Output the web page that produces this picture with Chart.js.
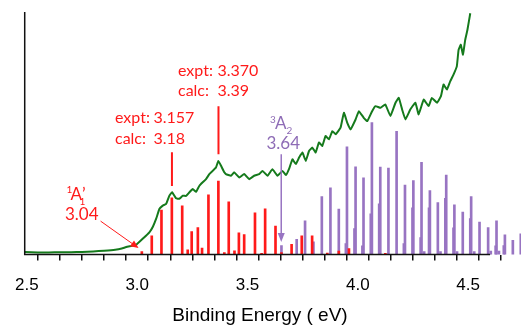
<!DOCTYPE html>
<html>
<head>
<meta charset="utf-8">
<script src="https://cdn.jsdelivr.net/npm/chart.js@4"></script>
<style>
  html, body { margin: 0; padding: 0; background: #fff; }
  #wrap { width: 521px; height: 325px; }
</style>
</head>
<body>
<div id="wrap"><canvas id="spec"></canvas></div>
<script>
// tick labels on the energy axis
var tickVals = [2.5, 2.6, 2.7, 2.8, 2.9, 3.0, 3.1, 3.2, 3.3, 3.4, 3.5, 3.6, 3.7, 3.8, 3.9, 4.0, 4.1, 4.2, 4.3, 4.4, 4.5, 4.6];
var tickLabels = ['2.5', '3.0', '3.5', '4.0', '4.5'];

// experimental photoelectron spectrum (green)
var exptE = [2.49, 2.55, 2.60, 2.65, 2.70, 2.75, 2.80, 2.85, 2.90, 2.93, 2.95, 2.975, 2.996, 3.026, 3.056, 3.071, 3.086, 3.101, 3.116, 3.131,
  3.146, 3.158, 3.176, 3.191, 3.207, 3.222, 3.237, 3.252, 3.267, 3.282, 3.297, 3.312, 3.327, 3.342, 3.357, 3.368, 3.380, 3.395, 3.402, 3.425,
  3.440, 3.463, 3.485, 3.508, 3.530, 3.553, 3.568, 3.591, 3.613, 3.636, 3.659, 3.674, 3.688, 3.704, 3.719, 3.734, 3.749, 3.764, 3.779, 3.794,
  3.809, 3.824, 3.839, 3.854, 3.869, 3.885, 3.900, 3.922, 3.937, 3.952, 3.967, 3.990, 4.005, 4.027, 4.043, 4.065, 4.080, 4.103, 4.125, 4.148,
  4.171, 4.186, 4.201, 4.216, 4.238, 4.261, 4.276, 4.299, 4.321, 4.336, 4.359, 4.377, 4.389, 4.404, 4.419, 4.434, 4.449, 4.457, 4.467, 4.477,
  4.487, 4.497, 4.510];
var exptI = [1.1, 0.9, 0.9, 1.0, 1.0, 1.1, 1.3, 1.6, 2.0, 2.5, 3.1, 3.6, 4.1, 6.6, 9.3, 11.5, 14.8, 18.9, 20.2, 20.9,
  24.3, 25.7, 23.2, 23.0, 24.3, 24.2, 25.7, 27.0, 25.9, 28.4, 29.8, 31.1, 33.2, 34.5, 35.9, 38.6, 36.6, 33.9, 33.2, 32.5,
  33.9, 31.8, 33.2, 31.1, 32.5, 33.2, 34.5, 32.5, 35.2, 32.5, 34.5, 32.8, 35.2, 39.3, 37.3, 40.0, 42.1, 38.6, 42.7, 44.1,
  42.1, 46.2, 44.8, 48.9, 47.5, 50.9, 49.6, 52.3, 58.5, 54.4, 51.6, 55.7, 59.1, 56.4, 55.0, 59.1, 61.2, 60.5, 61.9, 57.1,
  62.6, 64.6, 59.8, 55.7, 59.8, 62.6, 57.8, 63.9, 61.2, 64.6, 62.6, 65.3, 70.1, 68.0, 71.4, 74.2, 77.6, 84.4, 86.5, 82.4,
  88.5, 92.6, 99.5];

// calculated singlet sticks (red)
var singE = [3.021, 3.066, 3.110, 3.157, 3.204, 3.229, 3.247, 3.275, 3.294, 3.323, 3.368, 3.395, 3.415, 3.441, 3.461, 3.485,
  3.534, 3.564, 3.580, 3.627, 3.654, 3.700, 3.746, 3.793, 3.862, 3.914, 3.960, 4.125];
var singI = [1.2, 7.7, 18.4, 23.4, 20.1, 2.0, 9.5, 11.1, 2.7, 24.6, 30.3, 0.8, 21.8, 1.6, 9.0, 8.3,
  17.2, 0.5, 18.9, 11.8, 0.8, 4.2, 7.7, 7.7, 0.6, 1.4, 2.5, 0.5];

// calculated triplet sticks (purple)
var tripE = [3.654, 3.723, 3.761, 3.799, 3.837, 3.876, 3.914, 3.951, 3.990, 4.026, 4.064, 4.102, 4.139, 4.176, 4.214, 4.252,
  4.289, 4.327, 4.363, 4.401, 4.438, 4.476, 4.514, 4.552, 4.591, 4.629, 4.667, 4.703, 4.739,
  3.946, 3.985, 4.021, 4.059, 4.097, 4.209, 4.248, 4.285, 4.323, 4.397, 4.434, 4.510, 4.625, 4.662,
  4.301, 4.375, 4.450, 4.528, 4.603, 4.640];
var tripI = [3.7, 6.3, 13.9, 5.3, 23.9, 27.5, 18.8, 44.4, 36.2, 31.6, 54.4, 36.1, 35.7, 50.8, 28.7, 30.5,
  38.0, 26.4, 21.4, 32.8, 20.5, 17.5, 23.9, 13.4, 11.1, 13.9, 8.2, 5.9, 8.6,
  4.5, 10.7, 3.6, 16.8, 20.9, 4.5, 19.3, 7.0, 19.3, 23.2, 11.0, 14.8, 3.6, 3.7,
  1.2, 1.2, 1.2, 1.2, 1.5, 1.5];

var RED = '#ff1a1a';
var PURPLE = '#9874c2';
var PURPLE_TXT = '#8e6cb6';
var GREEN = '#157a1c';

function pairs(xs, ys) {
  return xs.map(function (x, i) { return { x: x, y: ys[i] }; });
}

function arrow(ctx, x1, y1, x2, y2, color, lw, hl, hw) {
  var a = Math.atan2(y2 - y1, x2 - x1);
  ctx.save();
  ctx.strokeStyle = color;
  ctx.fillStyle = color;
  ctx.lineWidth = lw;
  ctx.beginPath();
  ctx.moveTo(x1, y1);
  ctx.lineTo(x2 - Math.cos(a) * hl * 0.8, y2 - Math.sin(a) * hl * 0.8);
  ctx.stroke();
  ctx.beginPath();
  ctx.moveTo(x2, y2);
  ctx.lineTo(x2 - Math.cos(a) * hl + Math.sin(a) * hw / 2, y2 - Math.sin(a) * hl - Math.cos(a) * hw / 2);
  ctx.lineTo(x2 - Math.cos(a) * hl - Math.sin(a) * hw / 2, y2 - Math.sin(a) * hl + Math.cos(a) * hw / 2);
  ctx.closePath();
  ctx.fill();
  ctx.restore();
}

var labelFont = '16px Lato';
var bigFont = '17px Lato';
var smallFont = '10px Lato';

var notes = {
  id: 'notes',
  afterDatasetsDraw: function (chart) {
    var ctx = chart.ctx;
    var xs = chart.scales.x, ys = chart.scales.y;
    var px = function (v) { return xs.getPixelForValue(v); };
    var py = function (v) { return ys.getPixelForValue(v); };

    // pointer lines above the two assigned peaks
    ctx.save();
    ctx.strokeStyle = RED;
    ctx.lineWidth = 2;
    ctx.beginPath();
    ctx.moveTo(px(3.3685), py(61.1)); ctx.lineTo(px(3.3685), py(41.4));
    ctx.moveTo(px(3.1575), py(42.2)); ctx.lineTo(px(3.1575), py(28.3));
    ctx.stroke();
    ctx.restore();

    arrow(ctx, px(2.834), py(13.8), px(3.006), py(2.7), RED, 1, 8, 7);
    arrow(ctx, px(3.653), py(41.4), px(3.653), py(5.2), PURPLE, 1.5, 9, 7);

    ctx.save();
    ctx.textAlign = 'left';
    ctx.textBaseline = 'middle';
    ctx.font = labelFont;
    ctx.fillStyle = RED;
    ctx.fillText('expt:', 178, 71);
    ctx.fillText('3.370', 217.5, 71);
    ctx.fillText('calc:', 178, 91);
    ctx.fillText('3.39', 217.5, 91);
    ctx.fillText('expt:', 115, 118);
    ctx.fillText('3.157', 153.5, 118);
    ctx.fillText('calc:', 115, 139);
    ctx.fillText('3.18', 153.5, 139);

    ctx.textBaseline = 'alphabetic';
    // 1A1' label
    ctx.font = bigFont;
    ctx.fillText('A', 70.5, 200);
    ctx.fillText('\u2019', 82, 200);
    ctx.fillText('3.04', 65, 220);
    ctx.font = smallFont;
    ctx.fillText('1', 66.5, 193);
    ctx.fillText('1', 79.5, 205);

    // 3A2 label
    ctx.fillStyle = PURPLE_TXT;
    ctx.font = bigFont;
    ctx.fillText('A', 275, 129);
    ctx.fillText('3.64', 266.5, 149);
    ctx.font = smallFont;
    ctx.fillText('3', 270, 123);
    ctx.fillText('2', 286.5, 133.5);
    ctx.restore();
  },
  afterDraw: function (chart) {
    var ctx = chart.ctx;
    var a = chart.chartArea;
    var xs = chart.scales.x;
    ctx.save();
    ctx.strokeStyle = '#111';
    ctx.lineWidth = 1.5;
    ctx.beginPath();
    ctx.moveTo(a.left, a.top);
    ctx.lineTo(a.left, a.bottom);
    ctx.lineTo(xs.getPixelForValue(4.6), a.bottom);
    ctx.stroke();
    ctx.fillStyle = '#000';
    ctx.font = '19px "Liberation Sans"';
    ctx.textAlign = 'center';
    ctx.textBaseline = 'middle';
    ctx.fillText('Binding Energy ( eV)', 260, 316);
    ctx.restore();
  }
};

new Chart(document.getElementById('spec'), {
  type: 'bar',
  data: {
    datasets: [
      {
        type: 'line',
        data: pairs(exptE, exptI),
        borderColor: GREEN,
        borderWidth: 2,
        pointRadius: 0,
        tension: 0.1,
        order: 0
      },
      {
        data: pairs(singE, singI),
        backgroundColor: RED,
        barThickness: 2,
        grouped: false,
        order: 1
      },
      {
        data: pairs(tripE, tripI),
        backgroundColor: PURPLE,
        barThickness: 2,
        grouped: false,
        order: 2
      }
    ]
  },
  options: {
    responsive: true,
    maintainAspectRatio: false,
    animation: false,
    layout: { padding: { left: 23, top: 12, right: 0, bottom: 14 } },
    plugins: { legend: { display: false }, tooltip: { enabled: false } },
    scales: {
      x: {
        type: 'linear',
        min: 2.49,
        max: 4.74,
        offset: false,
        border: { display: false },
        grid: { drawOnChartArea: false, drawTicks: true, tickLength: 6, color: '#111', lineWidth: 1.5 },
        afterBuildTicks: function (scale) {
          scale.ticks = tickVals.map(function (v) { return { value: v }; });
        },
        ticks: {
          padding: 15,
          color: '#000',
          font: { family: 'Liberation Sans', size: 17 },
          maxRotation: 0,
          autoSkip: false,
          callback: function (v) {
            var s = Number(v).toFixed(1);
            return tickLabels.indexOf(s) >= 0 ? s : '';
          }
        }
      },
      y: {
        display: false,
        min: 0,
        max: 100
      }
    }
  },
  plugins: [notes]
});
</script>
</body>
</html>
